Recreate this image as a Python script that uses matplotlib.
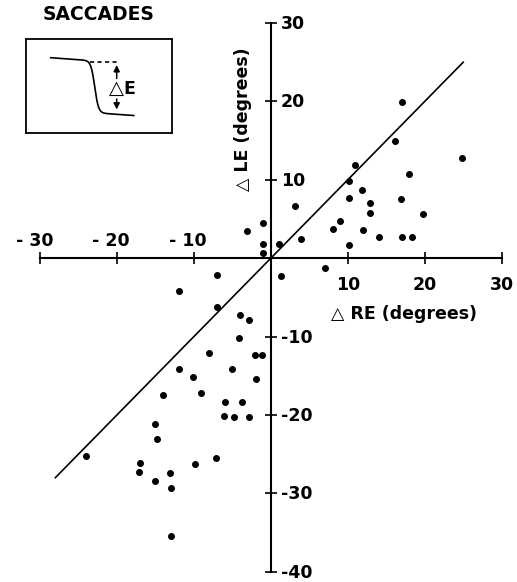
import numpy as np
import matplotlib
matplotlib.use('Agg')
import matplotlib.pyplot as plt

# eye position changes during saccades (degrees)
re_change = [17.0, 16.1, 24.9, 10.9, 18.0, 10.2, 11.9, 10.2, 16.9, 12.9, 12.9,
             19.8, 9.0, 8.1, 12.0, 3.1, 3.95, 14.1, 17.1, 18.3, 10.2, 1.0,
             7.0, 1.3,
             -1.0, -3.05, -1.0, -1.0,
             -7.0, -12.0, -7.0, -4.0, -2.9, -4.1, -8.1, -2.1, -1.1, -11.9,
             -5.0, -1.9, -10.1, -14.0, -9.1, -6.0, -3.8, -6.1, -4.8, -2.9,
             -15.0, -14.8, -24.0, -17.0, -17.1, -13.1, -9.9, -7.1, -15.0,
             -13.0, -13.0]
le_change = [19.9, 14.9, 12.8, 11.9, 10.8, 9.8, 8.7, 7.7, 7.5, 7.0, 5.8,
             5.6, 4.7, 3.7, 3.6, 6.7, 2.5, 2.7, 2.7, 2.7, 1.7, 1.8,
             -1.3, -2.3,
             4.5, 3.5, 1.8, 0.7,
             -2.2, -4.2, -6.2, -7.2, -7.9, -10.2, -12.1, -12.3, -12.4, -14.2,
             -14.2, -15.4, -15.1, -17.4, -17.2, -18.4, -18.4, -20.2, -20.3, -20.3,
             -21.2, -23.1, -25.2, -26.1, -27.3, -27.4, -26.3, -25.5, -28.4,
             -29.3, -35.4]
diag = [-28, 25]  # equality line

x_ticks = [-30, -20, -10, 10, 20, 30]
y_ticks = [-40, -30, -20, -10, 10, 20, 30]

W, H = 517, 582
fig = plt.figure(figsize=(W / 100, H / 100), dpi=100)

# main axes: x -30..30 -> px 40..501.7, y -40..30 -> px 571.7..23
ax = fig.add_axes([40 / W, (H - 571.7) / H, 461.7 / W, 548.7 / H])
ax.set_xlim(-30, 30)
ax.set_ylim(-40, 30)
for s in ['top', 'right']:
    ax.spines[s].set_visible(False)
ax.spines['left'].set_position(('data', 0))
ax.spines['bottom'].set_position(('data', 0))
for s in ['left', 'bottom']:
    ax.spines[s].set_linewidth(1.5)
ax.set_xticks(x_ticks)
ax.set_yticks(y_ticks)
ax.tick_params(direction='inout', length=8, width=1.2,
               labelbottom=False, labelleft=False)
ax.patch.set_alpha(0)

ax.plot(diag, diag, color='black', lw=1.2)
ax.plot(re_change, le_change, 'o', color='black', ms=4, ls='none')

lab = dict(fontsize=12.5, fontweight='bold', color='black')
for t in x_ticks:
    if t < 0:
        ax.annotate('- %d' % -t, (t, 0), xytext=(13, 12), textcoords='offset pixels',
                    ha='right', va='baseline', **lab)
    else:
        ax.annotate('%d' % t, (t, 0), xytext=(0, -32), textcoords='offset pixels',
                    ha='center', va='baseline', **lab)
for t in y_ticks:
    txt = '%d' % t if t > 0 else '-%d' % -t
    ax.annotate(txt, (0, t), xytext=(10, -6), textcoords='offset pixels',
                ha='left', va='baseline', **lab)

fig.text(404 / W, 1 - 314 / H, '\u25b3 RE (degrees)', ha='center', va='center', **lab)
fig.text(243 / W, 1 - 119 / H, '\u25b3 LE (degrees)', ha='center', va='center',
         rotation=90, **lab)

# inset schematic
fig.text(99 / W, 1 - 15 / H, 'SACCADES', ha='center', va='center',
         fontsize=13.5, fontweight='bold')
ins = fig.add_axes([25.7 / W, (H - 133.3) / H, 146 / W, 94 / H])
ins.set_xlim(0, 146)
ins.set_ylim(94, 0)
ins.set_xticks([])
ins.set_yticks([])
for s in ins.spines.values():
    s.set_linewidth(1.3)
xs = np.linspace(25, 108, 300)
ys = 18.4 + 0.07 * (xs - 25) + 52 * 0.5 * (1 + np.tanh((xs - 69) / 3.8))
ins.plot(xs, ys, color='black', lw=1.2)
ins.plot([64, 91], [22.4, 22.4], color='black', lw=1.2, ls=(0, (2.5, 2)))
ins.annotate('', xy=(91, 23), xytext=(91, 42),
             arrowprops=dict(arrowstyle='-|>', color='black', lw=1.1, mutation_scale=9))
ins.annotate('', xy=(91, 73), xytext=(91, 57),
             arrowprops=dict(arrowstyle='-|>', color='black', lw=1.1, mutation_scale=9))
ins.text(91, 49.5, '\u25b3', ha='center', va='center', fontsize=14)
ins.text(98, 50, 'E', ha='left', va='center', fontsize=12.5, fontweight='bold')

fig.savefig('out.png', dpi=100)
